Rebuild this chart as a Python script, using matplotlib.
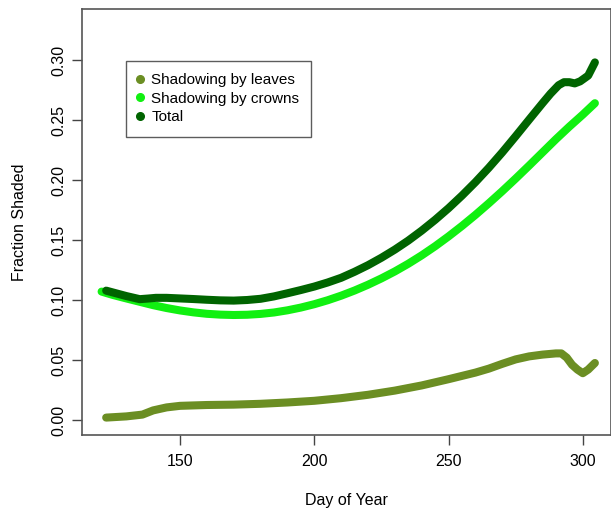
import matplotlib
matplotlib.use("Agg")
import matplotlib.pyplot as plt
from matplotlib.lines import Line2D

plt.rcParams['font.family'] = ['Liberation Sans', 'DejaVu Sans']

# Data
leaves_day = [122.5, 130, 136, 140, 145, 150, 160, 170, 180, 190, 200, 210, 220, 230,
              240, 250, 260, 265, 270, 275, 280, 285, 290, 292, 294, 296, 298, 300, 302, 304.5]
leaves_val = [0.002, 0.003, 0.0045, 0.008, 0.0105, 0.0118, 0.0125, 0.0128, 0.0135, 0.0146,
              0.0160, 0.0182, 0.0210, 0.0245, 0.0288, 0.0340, 0.0395, 0.0428, 0.0468, 0.0505,
              0.053, 0.0545, 0.0555, 0.0555, 0.052, 0.046, 0.042, 0.039, 0.042, 0.0475]

crowns_day = [120.8, 125, 130, 135, 140, 145, 150, 155, 160, 165, 170, 175, 180, 185, 190,
              195, 200, 205, 210, 215, 220, 225, 230, 235, 240, 245, 250, 255, 260, 265,
              270, 275, 280, 285, 290, 295, 300, 304.5]
crowns_val = [0.107, 0.1042, 0.1013, 0.0985, 0.0957, 0.0933, 0.0913, 0.0897, 0.0885, 0.0878,
              0.0875, 0.0877, 0.0884, 0.0896, 0.0914, 0.0937, 0.0965, 0.0998, 0.1036, 0.1079,
              0.1127, 0.1180, 0.1238, 0.1302, 0.1372, 0.1448, 0.1530, 0.1617, 0.1709, 0.1806,
              0.1907, 0.2012, 0.2120, 0.2230, 0.2340, 0.2445, 0.2545, 0.2640]

total_day = [122.5, 125, 130, 135, 138, 141, 145, 150, 155, 160, 165, 170, 175, 180, 185,
             190, 195, 200, 205, 210, 215, 220, 225, 230, 235, 240, 245, 250, 255, 260,
             265, 270, 275, 280, 285, 288, 291, 293, 295, 297, 299, 302, 304.5]
total_val = [0.1078, 0.1063, 0.1033, 0.1007, 0.1012, 0.1018, 0.1018, 0.1013, 0.1008, 0.1002,
             0.0997, 0.0995, 0.1000, 0.1010, 0.1030, 0.1056, 0.1083, 0.1112, 0.1146, 0.1185,
             0.1235, 0.1290, 0.1352, 0.1420, 0.1495, 0.1578, 0.1668, 0.1765, 0.1870, 0.1982,
             0.2102, 0.2230, 0.2365, 0.2503, 0.2640, 0.2720, 0.2790, 0.2815, 0.2815, 0.2805,
             0.2822, 0.2870, 0.2980]

series_names = ["Shadowing by leaves", "Shadowing by crowns", "Total"]
series_colors = ["#6B8E23", "#11F011", "#006400"]

x_ticks = [150, 200, 250, 300]
y_ticks = [0.00, 0.05, 0.10, 0.15, 0.20, 0.25, 0.30]
y_tick_labels = ["0.00", "0.05", "0.10", "0.15", "0.20", "0.25", "0.30"]

fig = plt.figure(figsize=(6.11, 5.11), dpi=100)
W, H = 611, 511
left, right, top, bottom = 82, 611, 9, 435
ax = fig.add_axes([left / W, 1 - bottom / H, (right - left) / W, (bottom - top) / H])

for d, v, c in zip([leaves_day, crowns_day, total_day],
                   [leaves_val, crowns_val, total_val], series_colors):
    ax.plot(d, v, color=c, lw=5.8, solid_capstyle='round', solid_joinstyle='round')

ax.set_xlim(113.5, 310.5)
ax.set_ylim(-0.0125, 0.3425)
ax.set_xticks(x_ticks)
ax.set_yticks(y_ticks)
ax.set_yticklabels(y_tick_labels, rotation=90, va='center')
ax.tick_params(axis='both', labelsize=11.5, length=7, width=1.0, color='#444444',
               direction='out', pad=7)
ax.tick_params(axis='y', pad=4)
for s in ax.spines.values():
    s.set_color('#555555')
    s.set_linewidth(1.2)

ax.set_xlabel("Day of Year", fontsize=11.5, va='center')
ax.xaxis.set_label_coords(0.5, (bottom - 500) / (bottom - top))
ax.set_ylabel("Fraction Shaded", fontsize=11.5, va='center')
ax.yaxis.set_label_coords((20 - left) / (right - left), 0.5)

handles = [Line2D([], [], marker='o', ls='none', color=c, markersize=5.5) for c in series_colors]
leg = ax.legend(handles, series_names, loc='upper left',
                bbox_to_anchor=((126 - left) / (right - left), 1 - (61 - top) / (bottom - top)),
                fontsize=11, frameon=True, fancybox=False, edgecolor='#333333',
                handletextpad=0.65, handlelength=0.2, labelspacing=0.3,
                borderpad=0.8, borderaxespad=0)
leg.get_frame().set_linewidth(1.0)

fig.savefig("out.png", dpi=100)
